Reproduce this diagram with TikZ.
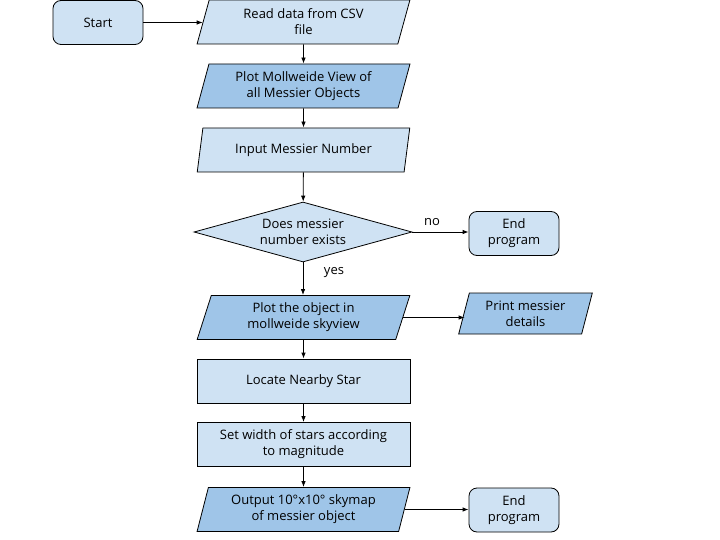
\documentclass[tikz,border=0pt]{standalone}
\usepackage{fontspec}
\setmainfont{Open Sans}
\usetikzlibrary{shapes.geometric,arrows.meta}
\definecolor{lightfill}{HTML}{CFE2F3}
\definecolor{darkfill}{HTML}{9FC5E8}
\tikzset{
  base/.style={draw=black, line width=0.8pt, align=center, font=\fontsize{13}{16}\selectfont, inner sep=0pt},
  term/.style={base, fill=lightfill, rounded corners=8pt, minimum width=90pt, minimum height=44pt},
  proc/.style={base, fill=lightfill, minimum width=213pt, minimum height=44pt},
  io/.style={base, trapezium, trapezium stretches=true, trapezium left angle=73.5, trapezium right angle=106.5, minimum width=213pt, minimum height=44pt},
  decision/.style={base, fill=lightfill, diamond, aspect=3.6, minimum width=218pt, minimum height=60pt},
  conn/.style={draw=black, line width=0.8pt, -{Latex[length=6pt,width=4.5pt]}},
  lbl/.style={font=\fontsize{13}{16}\selectfont}
}
\begin{document}
\begin{tikzpicture}[x=1pt,y=-1pt]
\useasboundingbox (0,0) rectangle (720,540);
\node[term] (start) at (98,22.5) {Start};
\node[io, fill=lightfill] (read) at (303.5,22) {Read data from CSV\\file};
\node[io, fill=darkfill] (moll) at (303.5,86) {Plot Mollweide View of\\all Messier Objects};
\node[io, fill=lightfill] (input) at (303.5,150) {Input Messier Number};
\node[decision] (dec) at (303,232) {Does messier\\number exists};
\node[term] (end1) at (514,233.5) {End\\program};
\node[io, fill=darkfill] (plotobj) at (303.5,317.5) {Plot the object in\\mollweide skyview};
\node[io, fill=darkfill, minimum width=135pt, minimum height=41pt] (print) at (525.5,313.5) {Print messier\\details};
\node[proc] (locate) at (303.5,381) {Locate Nearby Star};
\node[proc] (setw) at (303.5,444.5) {Set width of stars according\\to magnitude};
\node[io, fill=darkfill] (output) at (303.5,509.5) {Output 10°x10° skymap\\of messier object};
\node[term] (end2) at (514,510) {End\\program};
\node[lbl] (no) at (432,222) {no};
\node[lbl] (yes) at (334,273) {yes};

\draw[conn] (start) -- (start -| read.west);
\draw[conn] (read) -- (moll);
\draw[conn] (moll) -- (input);
\draw[conn] (input) -- (dec);
\draw[conn] (dec.east) -- (end1.west |- dec.east);
\draw[conn] (dec.south) -- (plotobj.north -| dec.south);
\draw[conn] (plotobj.east) -- ([xshift=1pt]print.west |- plotobj.east);
\draw[conn] (plotobj) -- (locate);
\draw[conn] (locate) -- (setw);
\draw[conn] (setw) -- (output);
\draw[conn] (output.east) -- (end2.west |- output.east);
\end{tikzpicture}
\end{document}
